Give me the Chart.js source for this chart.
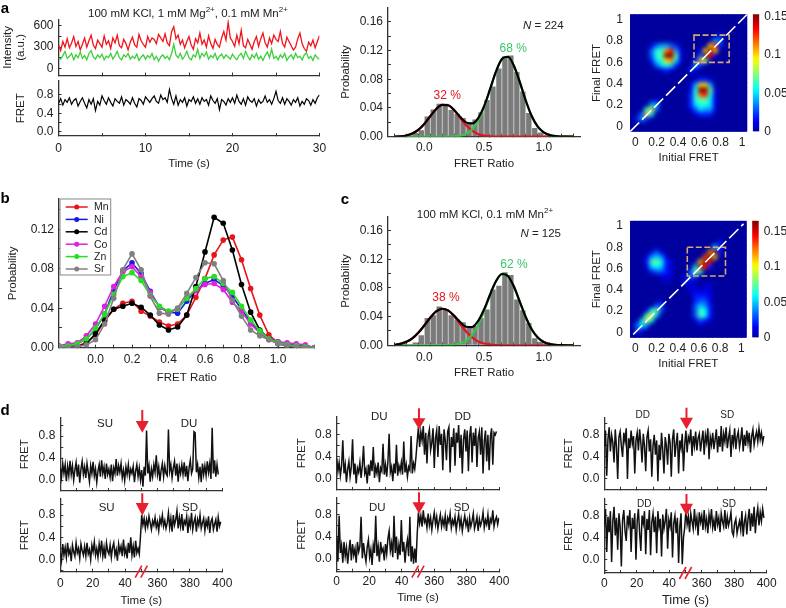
<!DOCTYPE html>
<html>
<head>
<meta charset="utf-8">
<style>
  body { margin: 0; background: white; overflow: hidden; }
  canvas { position: absolute; left: 0; top: 0; }
  .t { position: absolute; white-space: nowrap; transform: translate(-50%, -50%); color: #222; font-family: "Liberation Sans", sans-serif; }
  sup { font-size: 70%; line-height: 0; }
</style>
</head>
<body>
<script src="https://cdn.jsdelivr.net/npm/chart.js"></script>
<script>
// panel a traces, sampled every 0.25 s
const aRedTrace = [330,250,380,300,420,290,360,450,310,380,260,340,430,300,390,470,330,280,400,350,
  300,460,340,390,280,430,360,470,320,290,410,350,260,370,440,330,300,480,390,340,
  300,450,370,430,410,350,480,430,380,490,360,320,520,590,420,470,340,400,290,380,
  450,330,270,420,360,500,340,400,300,460,350,280,410,340,300,430,520,400,650,430,
  380,310,470,350,540,320,290,410,340,270,380,450,310,420,500,360,300,430,350,470,
  410,380,520,350,300,440,380,320,260,300,420,500,350,280,240,370,320,400,290,380,460]
const aGreenTrace = [150,130,180,240,140,170,210,120,190,150,230,140,180,120,210,250,160,130,190,150,
  200,120,170,150,210,130,180,240,150,120,190,160,210,130,170,140,200,110,160,190,
  130,180,150,210,120,170,100,160,190,140,170,120,210,340,190,150,210,130,170,240,
  150,120,190,160,270,140,210,170,230,130,180,150,210,120,170,200,140,190,160,130,
  200,150,120,180,210,140,240,170,120,190,150,210,130,170,110,180,230,150,270,140,
  170,120,190,150,210,110,160,190,130,210,150,170,120,190,220,140,170,110,190,150,130]
const aFretTrace = [62,72,58,70,64,74,60,68,72,56,66,74,62,52,70,60,72,46,66,58,
  78,68,60,74,64,56,72,66,62,76,58,70,66,60,74,62,54,72,68,60,
  76,70,64,72,78,66,62,80,70,74,64,92,72,60,78,58,70,64,74,56,
  70,66,76,62,72,60,74,66,70,58,78,68,62,72,48,70,66,58,72,64,
  74,62,80,66,60,72,58,76,68,64,72,56,70,62,66,78,64,70,60,72,
  88,68,62,74,60,72,66,58,70,64,74,56,66,60,72,68,58,70,62,74,80]

// panel d traces, one sample per 0.75 on the broken time axis
const d1Top = [22,5,30,12,28,-2,25,8,35,10,26,0,18,32,6,28,-5,20,34,10,
  24,4,30,14,-3,26,12,33,7,20,-4,16,28,6,36,12,24,2,30,10,
  20,5,28,-2,22,12,38,8,26,14,30,4,18,-1,24,10,28,6,20,12,
  25,-4,16,28,6,22,0,18,-12,24,8,90,12,26,-3,20,6,28,14,45,
  10,24,-2,18,30,6,26,12,8,92,16,28,4,22,34,8,30,-3,24,12,
  28,10,32,6,26,-2,22,36,12,20,88,86,14,28,4,24,-4,30,10,26,
  8,34,14,30,2,95,12,36,6,28,10]
const d1Bottom = [12,-2,28,8,22,4,30,10,18,-3,26,14,6,30,12,20,2,28,16,8,
  24,6,30,10,18,0,26,14,32,8,20,4,28,12,34,6,22,2,30,16,
  10,26,4,22,30,8,18,-2,28,14,24,6,36,10,20,2,30,12,40,8,
  24,4,34,12,20,10,42,80,
  62,74,56,72,60,78,66,54,70,62,76,58,68,52,74,64,80,60,70,56,
  66,84,58,74,50,80,62,72,88,56,76,60,82,52,70,64,78,48,72,60,
  84,54,68,76,50,72,62,80,56,66,74,52,70,60,78,48,68,74,54,64,
  72,50,76,60,68]
const d2Top = [38,14,30,6,24,70,10,26,-6,18,32,4,22,72,8,28,-8,20,12,30,
  2,24,60,10,18,-8,26,6,34,14,58,2,22,10,30,-6,20,14,64,8,
  26,4,32,82,12,22,-4,28,10,62,6,24,14,30,8,68,12,26,4,22,
  16,78,10,28,18,40,
  68,94,58,86,70,96,44,84,28,78,90,52,66,92,20,74,88,40,96,62,
  82,16,90,70,34,86,94,12,76,58,92,24,84,66,98,38,80,10,72,90,
  50,88,14,78,96,30,84,60,92,22,74,86,44,94,10,68,88,32,80,16,
  76,92,26,84,80,86]
const d2Bottom = [40,-6,78,10,24,-8,30,4,20,-10,14,34,-4,26,6,18,-8,30,12,22,
  76,0,28,8,-6,20,34,2,16,-12,24,10,78,4,22,-6,30,12,18,-4,
  26,8,36,50,14,28,2,78,10,40,-2,24,6,70,12,30,-8,20,34,4,
  76,-6,22,-10,18,-8,44,84,
  64,78,58,88,66,72,56,82,60,74,52,70,84,62,76,54,68,80,58,72,
  60,78,50,74,66,82,56,70,62,76,52,68,80,58,72,50,66,78,60,70,
  48,74,58,68,82,54,64,76,50,72,60,68,84,56,70,62,80,52,72,66,
  88,58,70,76,62,74]
const d3Top = [60,88,6,72,94,50,80,66,30,90,58,0,76,86,60,40,84,68,92,0,
  74,56,88,64,78,10,70,84,52,90,66,30,82,60,14,76,88,50,72,4,
  60,80,44,70,-4,62,34,84,52,10,76,60,26,82,66,4,72,90,40,64,
  84,10,70,56,82,14,
  62,88,48,76,68,90,42,78,60,86,52,74,82,50,70,88,44,80,66,92,
  36,76,62,84,54,72,90,48,78,58,96,50,82,68,94,56,74,88,40,80,
  64,92,54,76,86,58,72,94,50,80,60,88,66,84,48,78,90,62,76,86,
  68,92,72,84,66,78]
const d3Bottom = [62,92,14,78,50,88,-4,70,96,44,76,18,84,60,-12,72,90,52,34,80,
  64,90,14,76,56,84,0,70,92,48,16,80,66,88,10,74,54,90,8,68,
  84,50,78,12,88,60,74,6,82,56,70,92,20,72,60,86,4,66,80,48,
  76,-6,60,84,-8,40,
  58,90,64,78,50,84,70,56,92,62,76,44,86,68,80,54,90,60,74,48,
  82,66,92,58,72,52,88,64,76,50,84,70,60,90,56,78,62,72,86,50,
  44,66,74,48,60,70,54,88,42,68,80,46,74,92,52,84,60,96,48,78,
  94,62,86,70,92,76]

// histograms and gaussian fits
const histBins = [-.225,-.175,-.125,-.075,-.025,.025,.075,.125,.175,.225,.275,.325,.375,.425,.475,.525,.575,.625,.675,.725,.775,.825,.875,.925,.975,1.025,1.075,1.125,1.175]
const aHist = [.001,.001,.002,.005,.009,.028,.038,.046,.046,.037,.032,.026,.02,.024,.034,.051,.07,.095,.112,.113,.09,.063,.033,.012,.006,.002,.001,.001,.002]
const cHist = [.001,.002,.001,.004,.014,.038,.042,.054,.05,.042,.036,.032,.024,.027,.038,.05,.078,.083,.102,.098,.064,.049,.031,.01,.005,.002,.001,.001,.001]
const fitX = [-.25,-.2,-.15,-.1,-.05,0,.05,.1,.15,.2,.25,.3,.35,.4,.45,.5,.55,.6,.65,.7,.75,.8,.85,.9,.95,1,1.05,1.1,1.15,1.2,1.25]
const aRedFit = [.0002,.0006,.0017,.0044,.0095,.0178,.0284,.0385,.0444,.0437,.0367,.0262,.0159,.0083,.0037,.0014,.0004,.0001,0,0,0,0,0,0,0,0,0,0,0,0,0]
const aGreenFit = [0,0,0,0,0,0,0,0,0,.0001,.0004,.0014,.004,.0101,.0219,.0408,.0653,.0904,.108,.1112,.0988,.0758,.05,.0285,.014,.006,.0022,.0007,.0002,0,0]
const aSumFit = [.0002,.0006,.0017,.0044,.0095,.0178,.0284,.0385,.0444,.0438,.0371,.0276,.0199,.0184,.0256,.0422,.0657,.0905,.108,.1112,.0988,.0758,.05,.0285,.014,.006,.0022,.0007,.0002,0,0]
const cRedFit = [.0008,.002,.0048,.0097,.0175,.0276,.0385,.0472,.051,.0484,.0405,.0298,.0193,.011,.0055,.0025,.001,.0003,.0001,0,0,0,0,0,0,0,0,0,0,0,0]
const cGreenFit = [0,0,0,0,0,0,0,0,0,.0003,.0009,.0026,.0066,.0145,.0281,.0474,.0696,.089,.0994,.0967,.082,.0607,.0391,.022,.0108,.0046,.0017,.0006,.0002,0,0]
const cSumFit = [.0008,.002,.0048,.0097,.0175,.0276,.0385,.0472,.051,.0487,.0414,.0324,.0259,.0255,.0336,.0499,.0706,.0893,.0995,.0967,.082,.0607,.0391,.022,.0108,.0046,.0017,.0006,.0002,0,0]

// panel b
const bX = [-.2,-.15,-.1,-.05,0,.05,.1,.15,.2,.25,.3,.35,.4,.45,.5,.55,.6,.65,.7,.75,.8,.85,.9,.95,1,1.05,1.1,1.15,1.2]
const bMn = [0,.001,.002,.005,.013,.027,.039,.045,.047,.037,.032,.026,.022,.024,.033,.051,.07,.094,.109,.112,.089,.06,.033,.013,.005,.003,.001,0,0]
const bNi = [.001,.002,.004,.009,.019,.034,.058,.078,.086,.075,.057,.041,.036,.035,.047,.058,.065,.069,.063,.052,.039,.026,.016,.009,.006,.004,.003,.002,0]
const bCd = [0,0,.001,.004,.014,.028,.039,.042,.045,.041,.033,.023,.018,.021,.033,.062,.097,.132,.126,.099,.064,.036,.018,.009,.004,.002,.001,0,0]
const bCo = [.002,.004,.005,.012,.024,.042,.062,.077,.082,.072,.056,.041,.036,.04,.05,.058,.064,.065,.059,.046,.037,.024,.015,.008,.006,.005,.004,.003,0]
const bZn = [.001,.002,.004,.009,.02,.034,.054,.072,.076,.068,.053,.042,.037,.039,.05,.06,.07,.072,.065,.056,.042,.028,.017,.009,.005,.003,.002,.001,0]
const bSr = [0,0,.001,.003,.008,.024,.05,.079,.095,.079,.052,.035,.034,.04,.055,.071,.086,.085,.068,.048,.032,.018,.012,.008,.004,.002,.001,0,0]
const bNames = ['Mn','Ni','Cd','Co','Zn','Sr']
const bColors = ['#e8141c','#1a1ae0','#000000','#e020e0','#22e022','#808080']

// transition density maps, top row is final FRET 1.05, left column is initial FRET -0.05, values in hundredths
const aHeat = [
  [0,0,0,0,0,0,0,0,0,0,0,0,0,0,0,0,0,0,0,0,0,0,0,0],
  [0,0,0,0,0,0,0,0,0,0,0,0,0,0,0,0,0,0,0,0,0,0,0,0],
  [0,0,0,0,0,0,0,0,0,0,0,0,0,0,0,0,0,0,0,0,0,0,0,0],
  [0,0,0,0,0,0,0,0,0,0,0,0,0,0,0,0,0,0,0,0,0,0,0,0],
  [0,0,0,0,0,0,0,0,0,0,0,0,0,0,0,0,0,0,2,0,0,0,0,0],
  [0,0,0,0,0,0,0,0,0,0,0,0,0,0,0,0,0,4,3,0,0,0,0,0],
  [0,0,0,0,1,3,4,4,3,2,0,0,0,0,0,0,10,13,2,0,0,0,0,0],
  [0,0,0,0,3,6,6,11,13,4,1,0,0,0,1,10,28,10,0,0,0,0,0,0],
  [0,0,0,0,3,6,7,18,24,7,1,0,0,0,3,22,13,1,0,0,0,0,0,0],
  [0,0,0,0,2,5,6,10,11,5,1,0,0,2,10,7,0,0,0,0,0,0,0,0],
  [0,0,0,0,0,3,5,6,5,2,0,0,0,4,2,0,0,0,0,0,0,0,0,0],
  [0,0,0,0,0,0,1,2,1,0,0,0,2,1,0,0,0,0,0,0,0,0,0,0],
  [0,0,0,0,0,0,0,0,0,0,0,0,0,0,0,0,0,0,0,0,0,0,0,0],
  [0,0,0,0,0,0,0,0,0,0,0,0,0,1,2,2,1,0,0,0,0,0,0,0],
  [0,0,0,0,0,0,0,0,0,0,0,0,1,4,10,10,4,0,0,0,0,0,0,0],
  [0,0,0,0,0,0,0,0,0,0,0,0,1,6,20,24,7,1,0,0,0,0,0,0],
  [0,0,0,0,0,0,0,0,0,0,0,0,2,6,12,13,6,1,0,0,0,0,0,0],
  [0,0,0,0,0,1,0,0,0,0,0,0,2,6,7,7,5,1,0,0,0,0,0,0],
  [0,0,0,0,4,4,0,0,0,0,0,0,2,5,6,6,5,1,0,0,0,0,0,0],
  [0,0,0,6,10,3,0,0,0,0,0,0,1,3,5,4,4,1,0,0,0,0,0,0],
  [0,0,3,10,5,0,0,0,0,0,0,0,0,1,2,2,2,0,0,0,0,0,0,0],
  [0,2,4,2,0,0,0,0,0,0,0,0,0,0,0,0,0,0,0,0,0,0,0,0],
  [0,0,0,0,0,0,0,0,0,0,0,0,0,0,0,0,0,0,0,0,0,0,0,0],
  [0,0,0,0,0,0,0,0,0,0,0,0,0,0,0,0,0,0,0,0,0,0,0,0]
]
const cHeat = [
  [0,0,0,0,0,0,0,0,0,0,0,0,0,0,0,0,0,0,0,0,0,0,0,0],
  [0,0,0,0,0,0,0,0,0,0,0,0,0,0,0,0,0,0,0,0,0,0,0,0],
  [0,0,0,0,0,0,0,0,0,0,0,0,0,0,0,0,0,0,0,0,0,0,0,0],
  [0,0,0,0,0,0,0,0,0,0,0,0,0,0,0,0,0,0,0,0,0,0,0,0],
  [0,0,0,0,0,0,0,0,0,0,0,0,0,0,0,0,0,0,2,0,0,0,0,0],
  [0,0,0,0,0,0,0,0,0,0,0,0,0,0,0,0,0,5,2,0,0,0,0,0],
  [0,0,0,0,1,3,1,0,0,0,0,0,0,0,0,0,12,16,2,0,0,0,0,0],
  [0,0,0,1,4,5,4,1,0,0,0,0,0,0,0,13,32,11,0,0,0,0,0,0],
  [0,0,0,2,7,8,6,2,1,0,0,0,0,0,11,32,14,0,0,0,0,0,0,0],
  [0,0,0,1,5,6,5,2,1,0,0,0,0,5,16,14,2,0,0,0,0,0,0,0],
  [0,0,0,0,2,3,3,2,1,0,0,0,3,8,7,0,0,0,0,0,0,0,0,0],
  [0,0,0,0,0,0,1,1,1,0,0,1,3,3,0,0,0,0,0,0,0,0,0,0],
  [0,0,0,0,0,0,0,1,0,0,0,2,1,0,0,0,0,0,0,0,0,0,0,0],
  [0,0,0,0,0,0,0,0,0,0,0,0,1,1,0,1,1,0,0,0,0,0,0,0],
  [0,0,0,0,0,0,0,0,0,0,0,0,1,1,1,1,1,0,0,0,0,0,0,0],
  [0,0,0,0,0,0,0,0,0,0,0,0,0,2,2,2,1,0,0,0,0,0,0,0],
  [0,0,0,0,0,0,1,0,0,0,0,0,0,2,3,3,1,0,0,0,0,0,0,0],
  [0,0,0,0,0,3,3,0,0,0,0,0,0,3,5,4,2,0,0,0,0,0,0,0],
  [0,0,0,1,6,8,3,0,0,0,0,0,0,3,7,6,2,0,0,0,0,0,0,0],
  [0,0,0,7,10,5,0,0,0,0,0,0,0,3,7,6,2,0,0,0,0,0,0,0],
  [0,0,5,10,6,0,0,0,0,0,0,0,0,1,3,2,1,0,0,0,0,0,0,0],
  [0,3,6,4,0,0,0,0,0,0,0,0,0,0,1,0,0,0,0,0,0,0,0,0],
  [0,3,2,0,0,0,0,0,0,0,0,0,0,0,0,0,0,0,0,0,0,0,0,0],
  [0,0,0,0,0,0,0,0,0,0,0,0,0,0,0,0,0,0,0,0,0,0,0,0]
]

// tick values and their labels, '' is an unlabelled tick
const intensityTicks = [0,150,300,450,600], intensityLabels = ['0','','300','','600']
const fretTicks = [0,.2,.4,.6,.8], fretLabels = ['0.0','','0.4','','0.8']
const dFretTicks = [-.2,0,.2,.4,.6,.8,1], dFretLabels = ['','0.0','','0.4','','0.8','']
const aTimeTicks = [0,5,10,15,20,25,30], aTimeLabels = ['0','','10','','20','','30']
const dTimeTicks = [0,10,20,30,40,50,60,70,80,90,100], dTimeLabels = ['0','','20','','40','','360','','380','','400']
const probTicks = [0,.02,.04,.06,.08,.1,.12,.14,.16], probLabels = ['0.00','','0.04','','0.08','','0.12','','0.16']
const ratioTicks = [-.2,-.1,0,.1,.2,.3,.4,.5,.6,.7,.8,.9,1,1.1,1.2], ratioLabels = ['','','0.0','','','','','0.5','','','','','1.0','','']
const bProbTicks = [0,.02,.04,.06,.08,.1,.12,.14], bProbLabels = ['0.00','','0.04','','0.08','','0.12','']
const bRatioTicks = ratioTicks, bRatioLabels = ['','','0.0','','0.2','','0.4','','0.6','','0.8','','1.0','','']
const heatTicks = [0,.2,.4,.6,.8,1], heatLabels = ['0','0.2','0.4','0.6','0.8','1']
const barTicks = [0,.05,.1,.15], barLabels = ['0','0.05','0.1','0.15']

Chart.defaults.font.family = '"Liberation Sans", sans-serif'
Chart.defaults.font.size = 12
Chart.defaults.color = '#222'
Chart.defaults.animation = false
Chart.defaults.plugins.legend.display = false
Chart.defaults.plugins.tooltip.enabled = false

const W = 820, H = 608
const Y_AXIS = 45, X_AXIS = 22 // fixed room for tick labels, labels are clipped to the axis box
const axisColor = '#333'

function axis(o) {
  const horizontal = o.position === 'bottom'
  const font = { size: o.titleSize || 11.5 }
  const lh = font.size * 1.2
  let title = { display: false }
  if (o.title) {
    // negative padding pushes the title past the fixed axis box
    const padding = horizontal
      ? { bottom: o.edge + X_AXIS - o.titleAt - lh / 2 }
      : { top: o.titleAt - (o.edge - Y_AXIS) - lh / 2 }
    title = { display: true, text: o.title, font, padding, color: '#222' }
  }
  return {
    type: 'linear', position: o.position, min: o.min, max: o.max, title,
    afterFit(s) {
      if (horizontal) s.height = X_AXIS; else s.width = Y_AXIS
      s.paddingLeft = s.paddingRight = s.paddingTop = s.paddingBottom = 0
    },
    afterBuildTicks(s) { s.ticks = o.ticks.map(v => ({ value: v })) },
    ticks: {
      autoSkip: false, maxRotation: 0, minRotation: 0, display: !!o.labels,
      padding: o.pad === undefined ? 8 : o.pad,
      callback: (v, i) => o.labels ? o.labels[i] : ''
    },
    grid: { drawOnChartArea: false, drawTicks: !o.noTicks, tickLength: -3, tickColor: axisColor, tickWidth: 1 },
    border: { display: !o.noBorder, color: axisColor, width: 1.3 }
  }
}

function addChart(box, type, data, scales, plugins, isBar) {
  const c = document.createElement('canvas')
  c.width = W; c.height = H
  c.style.width = W + 'px'; c.style.height = H + 'px'
  document.body.appendChild(c)
  const padding = isBar
    ? { left: box[0], top: box[1], right: W - box[2] - Y_AXIS, bottom: H - box[3] }
    : { left: box[0] - Y_AXIS, top: box[1], right: W - box[2], bottom: H - box[3] - X_AXIS }
  return new Chart(c, {
    type, data, plugins: plugins || [],
    options: { responsive: false, layout: { padding }, scales }
  })
}

function label(html, x, y, style) {
  const d = document.createElement('div')
  d.className = 't'
  d.innerHTML = html
  d.style.left = x + 'px'; d.style.top = y + 'px'
  d.style.fontSize = '11.5px'
  Object.assign(d.style, style || {})
  document.body.appendChild(d)
}

const xy = (xs, ys) => ys.map((y, i) => ({ x: xs[i], y }))
const trace = (vals, step, scale) => vals.map((v, i) => ({ x: i * step, y: v / scale }))
const line = (data, color, width) => ({ type: 'line', data, borderColor: color, borderWidth: width, pointRadius: 0, tension: 0, fill: false })

// panel a traces
addChart([58.5, 19.3, 319.5, 75.5], 'line', { datasets: [
  line(trace(aGreenTrace, .25, 1), '#3ecf3e', 1.3),
  line(trace(aRedTrace, .25, 1), '#f0141c', 1.3)
] }, {
  x: axis({ position: 'bottom', min: 0, max: 30, ticks: aTimeTicks }),
  y: axis({ position: 'left', min: -103, max: 695, ticks: intensityTicks, labels: intensityLabels, title: ['Intensity', '(a.u.)'], edge: 58.5, titleAt: 7.5 })
})
addChart([58.5, 80.7, 319.5, 136], 'line', { datasets: [line(trace(aFretTrace, .25, 100), '#000', 1.2)] }, {
  x: axis({ position: 'bottom', min: 0, max: 30, ticks: aTimeTicks, labels: aTimeLabels, title: 'Time (s)', edge: 136, titleAt: 163.5 }),
  y: axis({ position: 'left', min: -.09, max: 1.11, ticks: fretTicks, labels: fretLabels, title: 'FRET', edge: 58.5, titleAt: 20.7 })
})

// histograms with fits
function histChart(box, bins, red, green, sum, yMax, titleY, tickPad) {
  const bars = { type: 'bar', data: xy(histBins, bins), backgroundColor: '#7b7b7b', barPercentage: .9, categoryPercentage: 1, order: 4 }
  const r = line(xy(fitX, red), '#e3141c', 2.2), g = line(xy(fitX, green), '#3fc24a', 2.2), k = line(xy(fitX, sum), '#000', 2.2)
  for (const d of [r, g, k]) d.cubicInterpolationMode = 'monotone'
  r.order = 3; g.order = 2; k.order = 1
  addChart(box, 'bar', { datasets: [bars, r, g, k] }, {
    x: axis({ position: 'bottom', min: -.25, max: 1.25, ticks: ratioTicks, labels: ratioLabels, title: 'FRET Ratio', edge: box[3], titleAt: titleY, pad: tickPad }),
    y: axis({ position: 'left', min: 0, max: yMax, ticks: probTicks, labels: probLabels, title: 'Probability', edge: box[0], titleAt: box[0] - 42.5 })
  })
}
histChart([388, 7.3, 580, 136.7], aHist, aRedFit, aGreenFit, aSumFit, .18, 164, 7)
histChart([388, 216.7, 580, 345.3], cHist, cRedFit, cGreenFit, cSumFit, .1795, 373, 8)

// density maps
function jet(v) {
  const t = .03 + .97 * Math.min(1, Math.max(0, v))
  const ch = k => Math.round(255 * Math.min(1, Math.max(0, 1.5 - Math.abs(4 * t - k))))
  return `rgb(${ch(3)},${ch(2)},${ch(1)})`
}
function heatChart(box, heat, maxVal, roi, diag, titleY, titleX) {
  const n = heat.length, step = 1.1 / n
  const cells = [], colors = []
  heat.forEach((row, r) => row.forEach((v, c) => {
    cells.push({ x: -.05 + (c + .5) * step, y: 1.05 - (r + .5) * step })
    colors.push(jet(v / 100 / maxVal))
  }))
  const overlay = {
    id: 'overlay',
    afterDatasetsDraw(chart) {
      const { ctx, chartArea: a, scales } = chart
      ctx.save()
      ctx.beginPath(); ctx.rect(a.left, a.top, a.width, a.height); ctx.clip()
      ctx.filter = 'blur(2.2px)'
      ctx.drawImage(chart.canvas, a.left, a.top, a.width, a.height, a.left, a.top, a.width, a.height)
      ctx.filter = 'none'
      ctx.strokeStyle = 'white'; ctx.lineWidth = 1.6; ctx.setLineDash([13, 4])
      ctx.beginPath()
      ctx.moveTo(scales.x.getPixelForValue(diag[0]), scales.y.getPixelForValue(diag[0]))
      ctx.lineTo(scales.x.getPixelForValue(diag[1]), scales.y.getPixelForValue(diag[1]))
      ctx.stroke()
      ctx.strokeStyle = '#d4a870'; ctx.lineWidth = 1.6; ctx.setLineDash([6, 2.5])
      const x0 = scales.x.getPixelForValue(roi[0]), x1 = scales.x.getPixelForValue(roi[1])
      const y0 = scales.y.getPixelForValue(roi[2]), y1 = scales.y.getPixelForValue(roi[3])
      ctx.strokeRect(x0, y1, x1 - x0, y0 - y1)
      ctx.restore()
    }
  }
  addChart(box, 'scatter', { datasets: [{ data: cells, pointStyle: 'rect', pointRadius: 3.9, borderWidth: 0, backgroundColor: colors }] }, {
    x: axis({ position: 'bottom', min: -.05, max: 1.05, ticks: heatTicks, labels: heatLabels, noTicks: true, noBorder: true, pad: 4, title: 'Initial FRET', edge: box[3], titleAt: titleY }),
    y: axis({ position: 'left', min: -.05, max: 1.05, ticks: heatTicks, labels: heatLabels, noTicks: true, noBorder: true, pad: 7, title: 'Final FRET', edge: box[0], titleAt: titleX })
  }, [overlay])
  // colour bar
  const barBox = [box[2] + 5.5, box[1], box[2] + 12, box[3]]
  const fillBar = c => {
    const a = c.chart.chartArea
    if (!a) return '#000'
    const g = c.chart.ctx.createLinearGradient(0, a.bottom, 0, a.top)
    for (let i = 0; i <= 24; i++) g.addColorStop(i / 24, jet(i / 24))
    return g
  }
  addChart(barBox, 'bar', { labels: ['scale'], datasets: [{ data: [[0, maxVal]], backgroundColor: fillBar, barPercentage: 1, categoryPercentage: 1 }] }, {
    x: { display: false, offset: true },
    y: axis({ position: 'right', min: 0, max: maxVal, ticks: barTicks, labels: barLabels, noTicks: true, noBorder: true, pad: 5 })
  }, [], true)
}
heatChart([630, 14.3, 747.3, 131.7], aHeat, .153, [.55, .88, .6, .855], [-.05, 1.05], 157.7, 597.3)
heatChart([630, 220.7, 746.7, 337.7], cHeat, .165, [.49, .85, .53, .8], [-.02, 1.02], 364, 596.7)

// panel b
function legendPlugin() {
  const rowY = [207, 219.4, 231.8, 244.2, 256.6, 269]
  return {
    id: 'metalLegend',
    afterDraw(chart) {
      const ctx = chart.ctx
      ctx.save()
      ctx.fillStyle = 'white'; ctx.strokeStyle = '#888'; ctx.lineWidth = 1
      ctx.fillRect(60, 199, 50.7, 76); ctx.strokeRect(60, 199, 50.7, 76)
      bNames.forEach((name, i) => {
        ctx.strokeStyle = ctx.fillStyle = bColors[i]; ctx.lineWidth = 1.5
        ctx.beginPath(); ctx.moveTo(65.7, rowY[i]); ctx.lineTo(87.7, rowY[i]); ctx.stroke()
        ctx.beginPath(); ctx.arc(76.7, rowY[i], 2.5, 0, 7); ctx.fill()
        ctx.fillStyle = '#222'; ctx.font = '10.5px "Liberation Sans"'; ctx.textBaseline = 'middle'
        ctx.fillText(name, 94, rowY[i] + .5)
      })
      ctx.restore()
    }
  }
}
const bSeries = [bMn, bNi, bCd, bCo, bZn, bSr]
addChart([59, 199, 314.5, 347.7], 'line', {
  datasets: bSeries.map((s, i) => ({
    label: bNames[i], data: xy(bX, s), borderColor: bColors[i], backgroundColor: bColors[i],
    borderWidth: 1.6, pointRadius: 2.8, pointBorderWidth: 0, tension: 0, order: -i
  }))
}, {
  x: axis({ position: 'bottom', min: -.2, max: 1.2, ticks: bRatioTicks, labels: bRatioLabels, title: 'FRET Ratio', edge: 347.7, titleAt: 378 }),
  y: axis({ position: 'left', min: 0, max: .1506, ticks: bProbTicks, labels: bProbLabels, title: 'Probability', edge: 59, titleAt: 12.7 })
}, [legendPlugin()])

// panel d
const arrowRed = '#e8202e'
function dMarks(arrow, broken) {
  return {
    id: 'dMarks',
    afterDraw(chart) {
      const { ctx, scales, chartArea: a } = chart
      const x = scales.x.getPixelForValue(50.6)
      ctx.save()
      ctx.fillStyle = ctx.strokeStyle = arrowRed
      ctx.fillRect(x - 1, arrow[0], 2, arrow[1] - arrow[0] + 1)
      ctx.beginPath()
      ctx.moveTo(x - 6.5, arrow[1]); ctx.lineTo(x + 6.5, arrow[1]); ctx.lineTo(x, arrow[2]); ctx.closePath(); ctx.fill()
      if (broken) {
        const c = scales.x.getPixelForValue(50), y = a.bottom
        ctx.lineWidth = 1.6
        for (const off of [-2.8, 2.8]) {
          ctx.beginPath(); ctx.moveTo(c + off - 3.3, y + 6); ctx.lineTo(c + off + 3.3, y - 6); ctx.stroke()
        }
      }
      ctx.restore()
    }
  }
}
function dChart(box, vals, step, yMin, yMax, arrow, broken, opts) {
  const x = { position: 'bottom', min: 0, max: 100, ticks: dTimeTicks }
  if (broken) Object.assign(x, { labels: dTimeLabels, title: 'Time (s)', edge: box[3], titleAt: opts.timeY, titleSize: opts.timeSize, pad: opts.tickPad })
  addChart(box, 'line', { datasets: [line(trace(vals, step, 100), '#111', 1.5)] }, {
    x: axis(x),
    y: axis({ position: 'left', min: yMin, max: yMax, ticks: dFretTicks, labels: dFretLabels, title: 'FRET', edge: box[0], titleAt: opts.fretX })
  }, [dMarks(arrow, broken)])
}
dChart([60.3, 417.7, 222.3, 491], d1Top, .75, -.2, 1.134, [410, 421, 432.7], false, { fretX: 25.3 })
dChart([60.3, 499, 222.3, 571.7], d1Bottom, .75, -.218, 1.09, [493.3, 503, 515.7], true, { fretX: 25.3, timeY: 600.7, tickPad: 8 })
dChart([336.7, 416.7, 499.3, 490], d2Top, .75, -.2, 1.13, [408.3, 418.3, 429.3], false, { fretX: 301.7 })
dChart([336.7, 497.7, 499.3, 571.7], d2Bottom, .75, -.245, 1.11, [492.3, 502.3, 513.7], true, { fretX: 301.7, timeY: 598.3, tickPad: 6 })
dChart([604.3, 417.3, 766.7, 489.7], d3Top, .75, -.195, 1.12, [407.7, 417.7, 429.3], false, { fretX: 569.3 })
dChart([604.3, 499, 766.7, 573], d3Bottom, .75, -.24, 1.1, [494, 503.7, 515.7], true, { fretX: 569.3, timeY: 600, timeSize: 13, tickPad: 6 })

// text that is not part of an axis
const letter = { fontWeight: 'bold', fontSize: '15px', color: '#000' }
label('a', 5, 7, letter)
label('b', 5, 197, letter)
label('c', 345, 198, letter)
label('d', 5, 409, letter)
label('100 mM KCl, 1 mM Mg<sup>2+</sup>, 0.1 mM Mn<sup>2+</sup>', 188, 12.5)
label('<i>N</i> = 224', 543.3, 25)
label('32 %', 447.3, 95, { color: '#e3141c', fontSize: '12px' })
label('68 %', 513.3, 48.3, { color: '#3fc26a', fontSize: '12px' })
label('100 mM KCl, 0.1 mM Mn<sup>2+</sup>', 485, 213.5)
label('<i>N</i> = 125', 540.7, 233.3)
label('38 %', 446, 297.3, { color: '#e3141c', fontSize: '12px' })
label('62 %', 514, 264, { color: '#3fc26a', fontSize: '12px' })
const stateTexts = [['SU', 105, 423.3], ['DU', 189, 423.3], ['SU', 106.7, 506.7], ['SD', 190, 506.7],
  ['DU', 379.3, 415.7], ['DD', 462.7, 415.7], ['DU', 377.3, 506.7], ['SD', 461.7, 506.7]]
stateTexts.forEach(s => label(s[0], s[1], s[2]))
const smallStateTexts = [['DD', 642.7, 414], ['SD', 727.3, 414], ['DD', 644.3, 503.3], ['SD', 729, 502.7]]
smallStateTexts.forEach(s => label(s[0], s[1], s[2], { fontSize: '10px' }))
</script>
</body>
</html>
